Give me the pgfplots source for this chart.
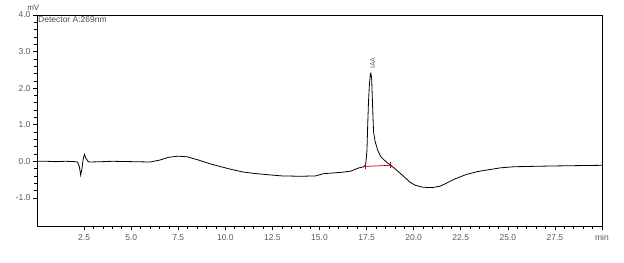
\documentclass[border=0pt]{standalone}
\usepackage{pgfplots}
\pgfplotsset{compat=1.18}
\usepackage{fontspec}
\setmainfont{Liberation Sans}
\begin{document}
\begin{tikzpicture}
\begin{axis}[
  scale only axis,
  width=565pt, height=211pt,
  xmin=0, xmax=30, ymin=-1.77, ymax=4.0,
  axis line style={black, line width=0.8pt},
  tick align=outside,
  xtick pos=bottom, ytick pos=left,
  xtick={2.5,5,7.5,10,12.5,15,17.5,20,22.5,25,27.5,30},
  xticklabels={2.5,5.0,7.5,10.0,12.5,15.0,17.5,20.0,22.5,25.0,27.5,min},
  ytick={-1,0,1,2,3,4},
  yticklabels={-1.0,0.0,1.0,2.0,3.0,4.0},
  minor x tick num=4, minor y tick num=4,
  major tick length=4pt, minor tick length=2.5pt,
  tick style={black, line width=0.6pt},
  ticklabel style={font=\fontsize{8.5}{9}\selectfont, text=black!65},
  xticklabel style={yshift=-1pt},
  yticklabel style={xshift=1pt},
  clip=false,
]
\addplot[black, line width=0.8pt] coordinates {
(0,0) (0.5,0) (1.0,-0.01) (1.5,0.0) (2.0,-0.01) (2.15,-0.02) (2.25,-0.15) (2.32,-0.38) (2.38,-0.22) (2.45,0.05) (2.52,0.19) (2.6,0.08) (2.7,0.0) (2.8,-0.02) (3.5,-0.01) (4,0) (5,-0.01) (6,-0.02)
(6.5,0.03) (7.0,0.11) (7.5,0.14) (8.0,0.12) (8.6,0.03) (9.2,-0.07) (9.7,-0.14) (10.3,-0.22) (10.9,-0.29) (11.5,-0.33) (12.1,-0.36) (13.0,-0.40) (14.0,-0.41) (14.8,-0.40) (15.2,-0.34) (15.7,-0.32) (16.2,-0.30) (16.65,-0.27) (17.1,-0.18) (17.35,-0.15)
(17.45,-0.10) (17.52,0.3) (17.56,1.0) (17.6,1.6) (17.65,2.1) (17.70,2.38) (17.73,2.41) (17.77,2.25) (17.82,1.5) (17.87,0.8) (17.95,0.55) (18.09,0.30) (18.25,0.13) (18.44,0.03) (18.6,-0.04) (18.78,-0.11)
(19.0,-0.2) (19.4,-0.38) (19.8,-0.57) (20.1,-0.66) (20.5,-0.71) (21.0,-0.72) (21.4,-0.68) (21.7,-0.61) (22.2,-0.48) (22.8,-0.36) (23.4,-0.28) (24.0,-0.23) (24.6,-0.18) (25.3,-0.15) (26.2,-0.14) (27.2,-0.13) (28.5,-0.12) (30,-0.11)
};
\addplot[red!75!black, line width=0.7pt, mark=|, mark size=3pt, mark options={solid}] coordinates {(17.45,-0.14) (18.78,-0.11)};
\node[anchor=west, rotate=90, font=\fontsize{7}{8}\selectfont, text=black!60, inner sep=1pt] at (axis cs:17.82,2.5) {IAA};
\node[anchor=north west, font=\fontsize{8.5}{9}\selectfont, text=black!70, inner sep=1pt] at (rel axis cs:0,1) {Detector A:269nm};
\node[anchor=south east, font=\fontsize{8}{9}\selectfont, text=black!70, inner sep=0.5pt] at ([xshift=3pt,yshift=4pt]rel axis cs:0,1) {mV};
\end{axis}
\pgfresetboundingbox
\path (current axis.south west) ++(-37pt,-36pt) rectangle ([xshift=22pt,yshift=15pt]current axis.north east);
\end{tikzpicture}
\end{document}
